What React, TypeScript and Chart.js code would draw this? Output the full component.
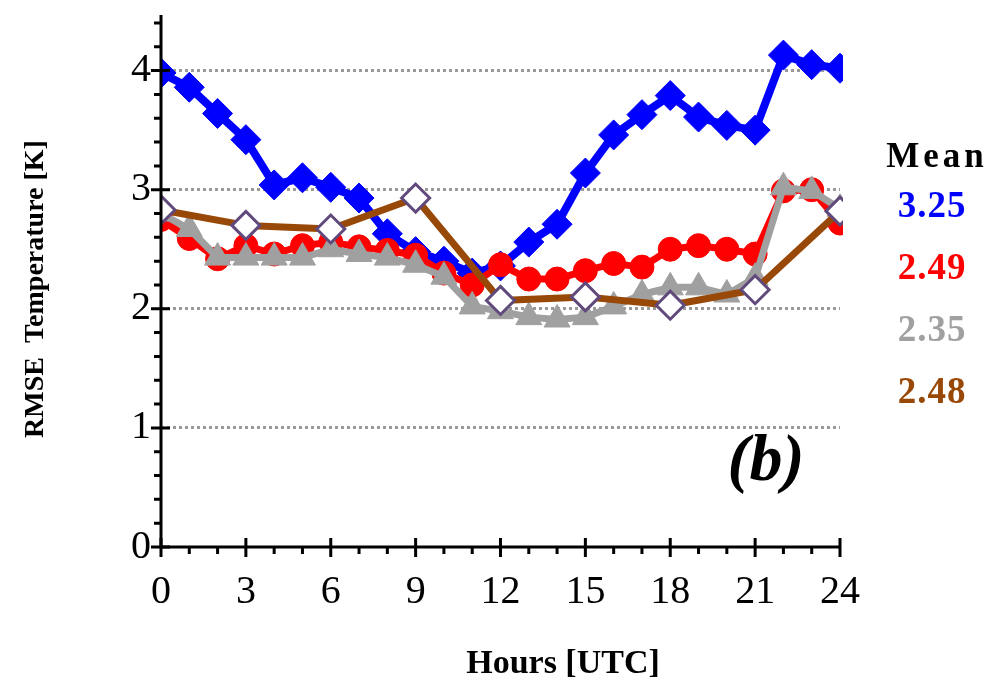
import React, { useEffect, useRef } from 'react';
import { Chart, registerables } from 'chart.js';

Chart.register(...registerables);

const hours = [0, 1, 2, 3, 4, 5, 6, 7, 8, 9, 10, 11, 12, 13, 14, 15, 16, 17, 18, 19, 20, 21, 22, 23, 24];
const hours3 = [0, 3, 6, 9, 12, 15, 18, 21, 24];

const seriesBlue = [3.98, 3.86, 3.64, 3.42, 3.04, 3.1, 3.02, 2.93, 2.63, 2.48, 2.4, 2.3, 2.36, 2.56, 2.71, 3.14, 3.46, 3.63, 3.79, 3.61, 3.54, 3.5, 4.13, 4.05, 4.02];
const seriesRed = [2.75, 2.59, 2.42, 2.53, 2.46, 2.53, 2.56, 2.52, 2.49, 2.45, 2.3, 2.2, 2.37, 2.25, 2.25, 2.32, 2.38, 2.35, 2.5, 2.53, 2.5, 2.46, 2.99, 3.0, 2.72];
const seriesGray = [2.8, 2.67, 2.43, 2.43, 2.43, 2.43, 2.5, 2.46, 2.43, 2.37, 2.27, 2.02, 1.98, 1.93, 1.91, 1.93, 2.02, 2.12, 2.18, 2.18, 2.12, 2.26, 3.02, 2.99, 2.84];
const seriesBrown = [2.83, 2.7, 2.67, 2.93, 2.07, 2.1, 2.03, 2.16, 2.82];

const xTicks = [0, 3, 6, 9, 12, 15, 18, 21, 24];
const yTicks = [0, 1, 2, 3, 4];
const meanTitle = 'Mean';
const meanLabels = ['3.25', '2.49', '2.35', '2.48'];
const xTitle = 'Hours [UTC]';
const yTitle = 'RMSE  Temperature [K]';
const panelLabel = '(b)';

const BLUE = '#0000ff';
const RED = '#ff0000';
const GRAY = '#a0a0a0';
const GRID = '#999999';
const BROWN = '#984807';
const PURPLE = '#604a7b';
const meanColors = [BLUE, RED, GRAY, BROWN];

const SERIF = '"Liberation Serif", "Times New Roman", serif';

const axesPlugin = {
  id: 'axesDecor',
  afterDatasetsDraw(chart: any) {
    const ctx = chart.ctx;
    const xs = chart.scales.x;
    const ys = chart.scales.y;
    const area = chart.chartArea;
    const x0 = xs.getPixelForValue(0);
    const y0 = ys.getPixelForValue(0);
    ctx.save();
    ctx.strokeStyle = '#000';
    ctx.lineWidth = 3;
    ctx.lineCap = 'butt';
    ctx.beginPath();
    ctx.moveTo(x0, area.top - 2);
    ctx.lineTo(x0, y0 + 1.5);
    ctx.moveTo(x0 - 1.5, y0);
    ctx.lineTo(xs.getPixelForValue(24), y0);
    ctx.stroke();
    ctx.beginPath();
    for (let h = 0; h <= 24; h++) {
      const px = xs.getPixelForValue(h);
      if (h % 3 === 0) {
        ctx.moveTo(px, y0 - 9);
        ctx.lineTo(px, y0 + 10);
      } else {
        ctx.moveTo(px, y0);
        ctx.lineTo(px, y0 + 7);
      }
    }
    for (let k = 0; k <= 22; k++) {
      const v = k / 5;
      const py = ys.getPixelForValue(v);
      if (k % 5 === 0) {
        ctx.moveTo(x0 - 10, py);
        ctx.lineTo(x0 + 9, py);
      } else {
        ctx.moveTo(x0 - 7, py);
        ctx.lineTo(x0, py);
      }
    }
    ctx.stroke();
    ctx.restore();
  },
  afterDraw(chart: any) {
    const ctx = chart.ctx;
    ctx.save();
    ctx.fillStyle = '#000';
    ctx.font = `bold 34px ${SERIF}`;
    ctx.textAlign = 'center';
    ctx.textBaseline = 'alphabetic';
    ctx.fillText(xTitle, 563, 673);
    ctx.save();
    ctx.translate(43, 289);
    ctx.rotate(-Math.PI / 2);
    ctx.font = `bold 28px ${SERIF}`;
    ctx.fillText(yTitle, 0, 0);
    ctx.restore();
    ctx.font = `italic bold 66px ${SERIF}`;
    ctx.textAlign = 'center';
    ctx.fillText(panelLabel, 766, 480);
    ctx.font = `bold 35px ${SERIF}`;
    (ctx as any).letterSpacing = '4px';
    ctx.fillText(meanTitle, 937, 167);
    (ctx as any).letterSpacing = '1px';
    ctx.font = `bold 37px ${SERIF}`;
    meanLabels.forEach((t, i) => {
      ctx.fillStyle = meanColors[i];
      ctx.fillText(t, 932, 217 + i * 62);
    });
    ctx.restore();
  },
};

export default function App() {
  const ref = useRef<HTMLCanvasElement>(null);
  useEffect(() => {
    if (!ref.current) return;
    const clip = { left: 0, top: false, right: 3, bottom: false } as any;
    const chart = new Chart(ref.current, {
      type: 'line',
      data: {
        datasets: [
          {
            label: 'brown',
            data: hours3.map((h, i) => ({ x: h, y: seriesBrown[i] })),
            borderColor: BROWN,
            borderWidth: 7,
            pointStyle: 'rectRot',
            pointRadius: 14,
            pointBackgroundColor: '#ffffff',
            pointBorderColor: PURPLE,
            pointBorderWidth: 3,
            borderJoinStyle: 'round',
            clip,
          },
          {
            label: 'gray',
            data: hours.map((h, i) => ({ x: h, y: seriesGray[i] })),
            borderColor: GRAY,
            borderWidth: 7,
            pointStyle: 'triangle',
            pointRadius: 15,
            pointBackgroundColor: GRAY,
            pointBorderColor: GRAY,
            pointBorderWidth: 1,
            borderJoinStyle: 'round',
            clip,
          },
          {
            label: 'red',
            data: hours.map((h, i) => ({ x: h, y: seriesRed[i] })),
            borderColor: RED,
            borderWidth: 7,
            pointStyle: 'circle',
            pointRadius: 12,
            pointBackgroundColor: RED,
            pointBorderColor: RED,
            pointBorderWidth: 1,
            borderJoinStyle: 'round',
            clip,
          },
          {
            label: 'blue',
            data: hours.map((h, i) => ({ x: h, y: seriesBlue[i] })),
            borderColor: BLUE,
            borderWidth: 8,
            pointStyle: 'rectRot',
            pointRadius: 15,
            pointBackgroundColor: BLUE,
            pointBorderColor: BLUE,
            pointBorderWidth: 1,
            borderJoinStyle: 'round',
            clip,
          },
        ] as any,
      },
      options: {
        responsive: false,
        animation: false,
        devicePixelRatio: 1,
        events: [],
        layout: { padding: { left: 0, right: 163, top: 12, bottom: 0 } },
        plugins: {
          legend: { display: false },
          tooltip: { enabled: false },
          title: { display: false },
        },
        scales: {
          x: {
            type: 'linear',
            min: 0,
            max: 24,
            afterBuildTicks: (s: any) => {
              s.ticks = xTicks.map((v) => ({ value: v }));
            },
            afterFit: (s: any) => {
              s.height = 131;
              s.paddingLeft = 0;
              s.paddingRight = 0;
            },
            grid: { display: false, drawTicks: false },
            border: { display: false },
            ticks: {
              font: { family: SERIF, size: 40 },
              color: '#000',
              padding: 21,
              maxRotation: 0,
              autoSkip: false,
              callback: (v: any) => String(v),
            },
          },
          y: {
            type: 'linear',
            min: 0,
            max: 4.45,
            afterBuildTicks: (s: any) => {
              s.ticks = yTicks.map((v) => ({ value: v }));
            },
            afterFit: (s: any) => {
              s.width = 161;
              s.paddingTop = 0;
              s.paddingBottom = 0;
            },
            grid: {
              drawTicks: false,
              lineWidth: 3,
              color: (c: any) => (c.tick && c.tick.value > 0 ? GRID : 'rgba(0,0,0,0)'),
            },
            border: { display: false, dash: [3, 3] },
            ticks: {
              font: { family: SERIF, size: 40 },
              color: '#000',
              padding: 10,
              callback: (v: any) => String(v),
            },
          },
        },
      } as any,
      plugins: [axesPlugin],
    });
    return () => chart.destroy();
  }, []);
  return (
    <div style={{ position: 'fixed', left: 0, top: 0, width: 1003, height: 678, background: '#fff' }}>
      <canvas ref={ref} width={1003} height={678} style={{ width: 1003, height: 678, display: 'block' }} />
    </div>
  );
}
